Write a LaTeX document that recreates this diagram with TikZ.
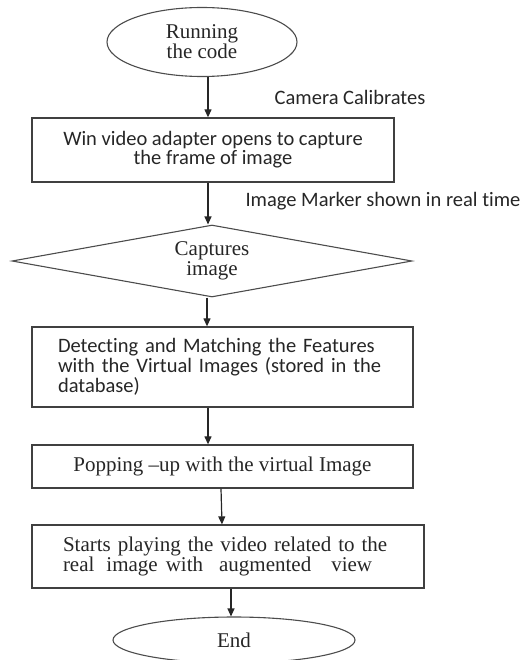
\documentclass[tikz,border=0pt]{standalone}
\usepackage{fontspec}
\setmainfont{Liberation Serif}
\newfontfamily\calib[Ligatures=NoCommon]{Carlito}
\usetikzlibrary{shapes.geometric,arrows.meta}

\begin{document}
\begin{tikzpicture}[x=1pt,y=-1pt,>={Triangle[length=8pt,width=7pt]},
  every node/.style={text=black!85},
  box/.style={rectangle,draw=black!75,line width=1.3pt,inner sep=0pt},
  term/.style={ellipse,draw=black!70,line width=1.1pt,inner sep=0pt},
  flow/.style={->,line width=1.2pt,black!85}]
\useasboundingbox (0,0) rectangle (526,660);
\path (202,42) node[term,minimum width=190pt,minimum height=69pt,align=center,font=\fontsize{21}{17}\selectfont] (run) {Running\\the code};
\path (213,150) node[box,minimum width=362pt,minimum height=64pt,align=center,font=\calib\fontsize{20.5}{19}\selectfont] (win) {Win video adapter opens to capture\\the frame of image};
\draw[flow] ([xshift=6pt]run.south) -- ([xshift=-5pt]win.north);
\path (350,97) node[font=\calib\fontsize{20.5}{19}\selectfont] (calib) {Camera Calibrates};
% decision
\path (212,261) node[diamond,draw=black!70,line width=1.1pt,minimum width=400pt,minimum height=72pt,aspect=5.5,inner sep=0pt,align=center,font=\fontsize{21}{18}\selectfont] (cap) {Captures\\image};
\draw[flow] ([xshift=-5pt]win.south) -- ([xshift=-4pt]cap.north);
\path (383,201) node[font=\calib\fontsize{20.5}{19}\selectfont] (marker) {Image Marker shown in real time};
\path (222.5,367) node[box,minimum width=381pt,minimum height=80pt,text width=329pt,align=left,font=\calib\fontsize{20.5}{20}\selectfont] (detect) {Detecting and Matching the Features\\with the Virtual Images (stored in the\\database)};
\draw[flow] ([xshift=-5pt]cap.south) -- ([xshift=-15.5pt]detect.north);
\path (222.5,466.5) node[box,minimum width=381pt,minimum height=43pt,font=\fontsize{21}{19}\selectfont] (pop) {Popping --up with the virtual Image};
\draw[flow] ([xshift=-14.5pt]detect.south) -- ([xshift=-14.5pt]pop.north);
\path (228,556.5) node[box,minimum width=392pt,minimum height=63pt,text width=330pt,align=left,font=\fontsize{21}{18}\selectfont] (play) {Starts playing the video related to the\\\makebox[302pt][l]{real\hspace{12pt}image\hspace{8pt}with\hspace{16pt}augmented\hspace{20pt}view}};
\draw[flow] ([xshift=-1.5pt]pop.south) -- ([xshift=-6pt]play.north);
% end
\path (234,640) node[term,minimum width=242pt,minimum height=46pt,font=\fontsize{21}{19}\selectfont] (fin) {End};
\draw[flow] ([xshift=3pt]play.south) -- ([xshift=-3pt]fin.north);
\end{tikzpicture}
\end{document}
